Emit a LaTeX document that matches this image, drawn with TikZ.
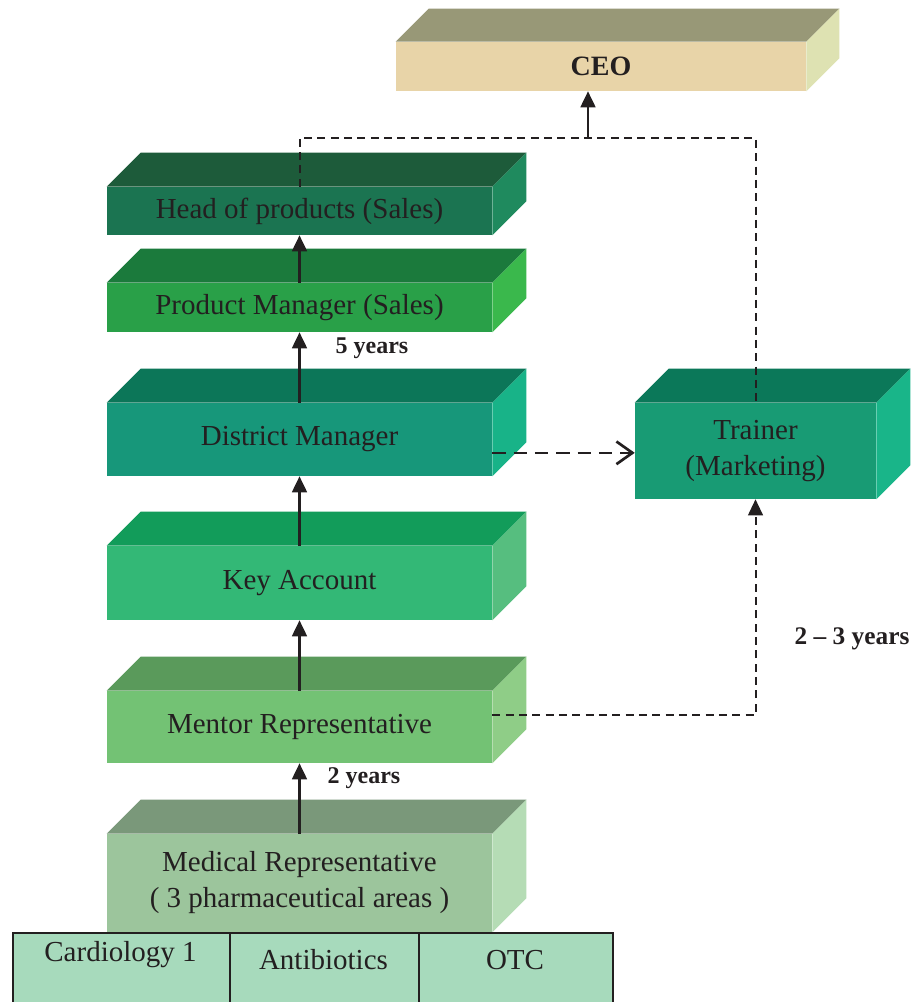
\documentclass[tikz,border=0pt]{standalone}
\usepackage{fontspec}
\setmainfont{Liberation Serif}
\usetikzlibrary{arrows.meta,calc}
\definecolor{txt}{HTML}{231F20}
\definecolor{ceoF}{HTML}{E8D4A8}\definecolor{ceoT}{HTML}{989877}\definecolor{ceoS}{HTML}{DEE2B2}
\definecolor{hdF}{HTML}{1B7451}\definecolor{hdT}{HTML}{1D5B3A}\definecolor{hdS}{HTML}{1F8A5E}
\definecolor{pmF}{HTML}{29A048}\definecolor{pmT}{HTML}{1B7A3C}\definecolor{pmS}{HTML}{3AB84C}
\definecolor{dmF}{HTML}{17977A}\definecolor{dmT}{HTML}{0C7658}\definecolor{dmS}{HTML}{18B388}
\definecolor{trF}{HTML}{189B74}\definecolor{trT}{HTML}{0B7859}\definecolor{trS}{HTML}{19B589}
\definecolor{kaF}{HTML}{33B876}\definecolor{kaT}{HTML}{129C5A}\definecolor{kaS}{HTML}{56BE7F}
\definecolor{mrF}{HTML}{73C274}\definecolor{mrT}{HTML}{5A9A5B}\definecolor{mrS}{HTML}{8FCD87}
\definecolor{mdF}{HTML}{9CC59C}\definecolor{mdT}{HTML}{7A987A}\definecolor{mdS}{HTML}{B5DCB5}
\definecolor{cellF}{HTML}{A7DABC}
\newcommand{\boxfaces}[4]{%
  \fill[#2] (#1.north west) -- ++(#4,-#4) -- ($(#1.north east)+(#4,-#4)$) -- (#1.north east) -- cycle;
  \fill[#3] (#1.north east) -- ++(#4,-#4) -- ($(#1.south east)+(#4,-#4)$) -- (#1.south east) -- cycle;
}
\tikzset{
  slab/.style={rectangle, inner sep=0pt, draw=none, text=txt, align=center,
    font=\fontsize{21.75}{27}\selectfont, minimum width=288.75pt},
  years/.style={inner sep=0pt, text=txt, font=\bfseries\fontsize{18}{20}\selectfont},
  solidarrow/.style={draw=txt, line width=2pt, -{Triangle[length=12pt,width=11pt]}},
  dashline/.style={draw=txt, line width=1.5pt, dash pattern=on 6pt off 4pt},
  cell/.style={rectangle, draw=txt, line width=1.2pt, fill=cellF, inner sep=0pt},
  celltext/.style={inner sep=0pt, text=txt, font=\fontsize{21.75}{27}\selectfont},
}
\begin{document}
\begin{tikzpicture}[x=0.75pt, y=-0.75pt]
\useasboundingbox (0,0) rectangle (917,1002);
\fill[white] (0,0) rectangle (917,1002);

% CEO
\node[slab, fill=ceoF, minimum width=307.5pt, minimum height=36.75pt, font=\bfseries\fontsize{21}{24}\selectfont] (ceo) at (601,66.5) {CEO};
\boxfaces{ceo}{ceoT}{ceoS}{33}

% left column
\node[slab, fill=hdF, minimum height=36pt] (head) at (299.5,211) {Head of products (Sales)};
\boxfaces{head}{hdT}{hdS}{34}
\node[slab, fill=pmF, minimum height=36.75pt] (pm) at (299.5,307.5) {Product Manager (Sales)};
\boxfaces{pm}{pmT}{pmS}{34}
\node[slab, fill=dmF, minimum height=54.75pt] (dm) at (299.5,439.5) {District Manager};
\boxfaces{dm}{dmT}{dmS}{34}
\node[slab, fill=kaF, minimum height=55.5pt] (ka) at (299.5,583) {Key Account};
\boxfaces{ka}{kaT}{kaS}{34}
\node[slab, fill=mrF, minimum height=54pt] (mr) at (299.5,727) {Mentor Representative};
\boxfaces{mr}{mrT}{mrS}{34}
\node[slab, fill=mdF, minimum height=73.5pt] (md) at (299.5,883) {Medical Representative\\( 3 pharmaceutical areas )};
\boxfaces{md}{mdT}{mdS}{34}

% trainer
\node[slab, fill=trF, minimum width=180.75pt, minimum height=72pt] (tr) at (755.5,451) {Trainer\\(Marketing)};
\boxfaces{tr}{trT}{trS}{34}

% table
\node[cell, minimum width=162.75pt, minimum height=60pt, anchor=north west] (c1) at (12,932) {};
\node[cell, minimum width=141.75pt, minimum height=60pt, anchor=north west] (c2) at (229,932) {};
\node[cell, minimum width=145.5pt, minimum height=60pt, anchor=north west] (c3) at (418,932) {};
\node[celltext] (t1) at (120.5,955) {Cardiology 1};
\node[celltext] (t2) at (323.5,960) {Antibiotics};
\node[celltext] (t3) at (515,960) {OTC};

% solid arrows
\draw[solidarrow] (md.north) -- (mr.south);
\draw[solidarrow] (mr.north) -- (ka.south);
\draw[solidarrow] (ka.north) -- (dm.south);
\draw[solidarrow] (dm.north) -- (pm.south);
\draw[solidarrow] (pm.north) -- (head.south);

% dashed to CEO / trainer
\coordinate (j) at (588,138);
\draw[dashline] (head.north) |- (j) -| (tr.north);
\draw[solidarrow] (j) -- (j |- ceo.south);

% district -> trainer
\draw[draw=txt, line width=2pt, dash pattern=on 10pt off 6pt, -{Straight Barb[length=12pt,width=17pt,line width=2pt]}]
  ([yshift=-10pt]dm.east) -- ([yshift=-10pt]dm.east -| tr.west);

% mentor -> trainer
\draw[dashline, -{Triangle[length=12pt,width=11pt]}] ([yshift=9pt]mr.east) -| (tr.south);

% labels
\node[years] (y5) at (372,348) {5 years};
\node[years] (y2) at (364,778) {2 years};
\node[years, font=\bfseries\fontsize{19}{21}\selectfont] (y23) at (852,639) {2 -- 3 years};
\end{tikzpicture}
\end{document}
